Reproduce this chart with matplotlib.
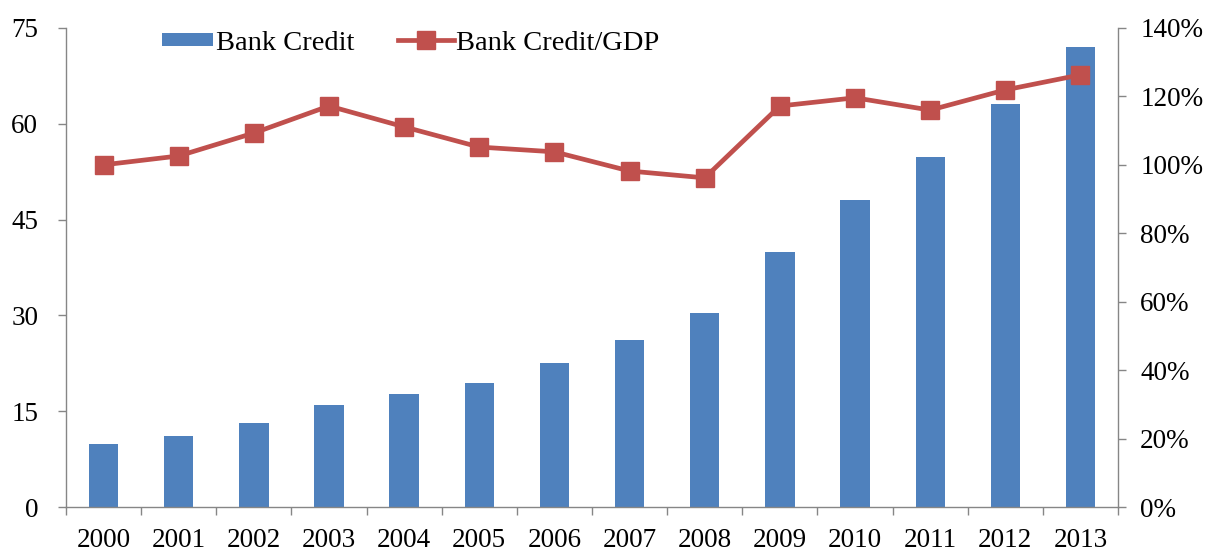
import numpy as np
import matplotlib as mpl
mpl.use("Agg")
import matplotlib.pyplot as plt
import matplotlib.ticker as mticker

# bank credit (left axis) and bank credit as a share of GDP (right axis)
years = ['2000', '2001', '2002', '2003', '2004', '2005', '2006',
         '2007', '2008', '2009', '2010', '2011', '2012', '2013']
bank_credit = [9.9, 11.1, 13.1, 16.0, 17.7, 19.4, 22.5,
               26.1, 30.4, 39.9, 48.1, 54.8, 63.1, 72.0]
credit_gdp = [100.0, 102.6, 109.3, 117.2, 111.1, 105.2, 103.8,
              98.2, 96.2, 117.2, 119.6, 116.0, 121.9, 126.3]

left_ticks = [0, 15, 30, 45, 60, 75]
right_ticks = [0, 20, 40, 60, 80, 100, 120, 140]

bar_col = '#4F81BD'
line_col = '#C0504D'
axis_col = '#868686'

plt.rcParams['font.family'] = ['Liberation Serif', 'DejaVu Serif']
fs = 19.5
leg_fs = 20.5

fig = plt.figure(figsize=(12.13, 5.52), dpi=100)
ax = fig.add_axes([0.0544, 0.0815, 0.8673, 0.8678])
ax2 = ax.twinx()

x = np.arange(len(years))
bars = ax.bar(x, bank_credit, width=0.39, color=bar_col, zorder=2, label='Bank Credit')
line, = ax2.plot(x, credit_gdp, color=line_col, lw=3.4, marker='s', ms=13.5,
                 zorder=3, label='Bank Credit/GDP')

ax.set_xlim(-0.5, len(years) - 0.5)
ax.set_ylim(0, 75)
ax2.set_ylim(0, 140)

ax.set_yticks(left_ticks)
ax2.set_yticks(right_ticks)
ax2.yaxis.set_major_formatter(mticker.FuncFormatter(lambda v, p: '%d%%' % v))

# category labels in the middle, tick marks on the boundaries
ax.set_xticks(x)
ax.set_xticklabels(years)
ax.set_xticks(np.arange(-0.5, len(years), 1.0), minor=True)
ax.tick_params(axis='x', which='major', length=0, pad=15, labelsize=fs)
ax.tick_params(axis='x', which='minor', length=6, width=1, color=axis_col, direction='out')
ax.tick_params(axis='y', length=6, width=1, color=axis_col, labelsize=fs, pad=14)
ax2.tick_params(axis='y', length=6, width=1, color=axis_col, labelsize=fs, pad=10)

for a in (ax, ax2):
    a.spines['top'].set_visible(False)
    for s in ('left', 'right', 'bottom'):
        a.spines[s].set_color(axis_col)
        a.spines[s].set_linewidth(1)
ax.spines['right'].set_visible(False)
ax2.spines['left'].set_visible(False)
ax2.spines['bottom'].set_visible(False)

ax.set_zorder(ax2.get_zorder() - 1)
ax.patch.set_visible(False)

# two legend entries, each placed on its own
leg_y = 1 - 43 / 552
leg1 = fig.legend([bars], ['Bank Credit'], loc='center left',
                  bbox_to_anchor=(162 / 1213, leg_y), frameon=False, fontsize=leg_fs,
                  handlelength=1.8, handleheight=0.32, handletextpad=0.1,
                  borderpad=0, borderaxespad=0)
leg2 = fig.legend([line], ['Bank Credit/GDP'], loc='center left',
                  bbox_to_anchor=(398 / 1213, leg_y), frameon=False, fontsize=leg_fs,
                  handlelength=1.95, handletextpad=0.08, borderpad=0, borderaxespad=0)

fig.savefig('out.png', dpi=100)
